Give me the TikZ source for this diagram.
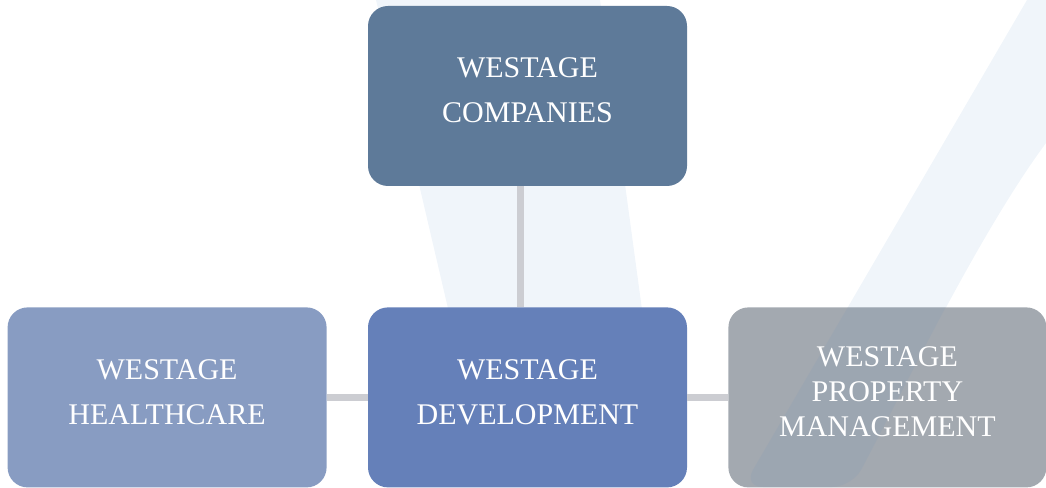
\documentclass[tikz,border=0pt]{standalone}
\usepackage{fontspec}
\setmainfont{Liberation Serif}
\usetikzlibrary{positioning}
\definecolor{topblue}{RGB}{94,122,153}
\definecolor{devblue}{RGB}{101,128,185}
\definecolor{careblue}{RGB}{136,156,194}
\definecolor{propgray}{RGB}{163,169,176}
\definecolor{linkgray}{RGB}{204,205,210}
\definecolor{bandblue}{RGB}{240,245,250}
\definecolor{bandshade}{RGB}{120,150,185}

\begin{document}
\begin{tikzpicture}[x=1pt,y=1pt,
    box/.style={rounded corners=20pt, minimum width=319pt, minimum height=180pt,
      inner sep=0pt, text=white, align=center, text depth=11pt,
      font=\fontsize{30}{45}\selectfont},
    link/.style={draw=linkgray, line width=7.5pt}]
\useasboundingbox (0,0) rectangle (1046,487);
% background strokes
\coordinate (b1) at (1027,487);
\coordinate (b2) at (1046,487);
\coordinate (b3) at (1046,344);
\coordinate (c1) at (980,255);
\coordinate (c2) at (905,100);
\coordinate (b4) at (852,0);
\coordinate (b5) at (743,0);
\fill[bandblue] (376,487) -- (600,487) -- (643,170) -- (450,170) -- cycle;
\fill[bandblue] (b1) -- (b2) -- (b3) .. controls (c1) and (c2) .. (b4) -- (b5) -- cycle;
% boxes
\node[box, fill=topblue] (companies) at (527.5,391) {WESTAGE\\COMPANIES};
\node[box, fill=devblue, below=121pt of companies] (development) {WESTAGE\\DEVELOPMENT};
\node[box, fill=careblue, left=41pt of development] (healthcare) {WESTAGE\\HEALTHCARE};
\node[box, fill=propgray, right=41pt of development, minimum width=318pt,
    font=\fontsize{30}{35}\selectfont,
    path picture={\fill[bandshade, opacity=.15] (b1) -- (b2) -- (b3)
      .. controls (c1) and (c2) .. (b4) -- (b5) -- cycle;}]
  (property) {WESTAGE\\PROPERTY\\MANAGEMENT};
% connectors
\draw[link] ([xshift=-7pt]companies.south) -- ([xshift=-7pt]development.north);
\draw[link] (healthcare) -- (development);
\draw[link] (development) -- (property);
\end{tikzpicture}
\end{document}
